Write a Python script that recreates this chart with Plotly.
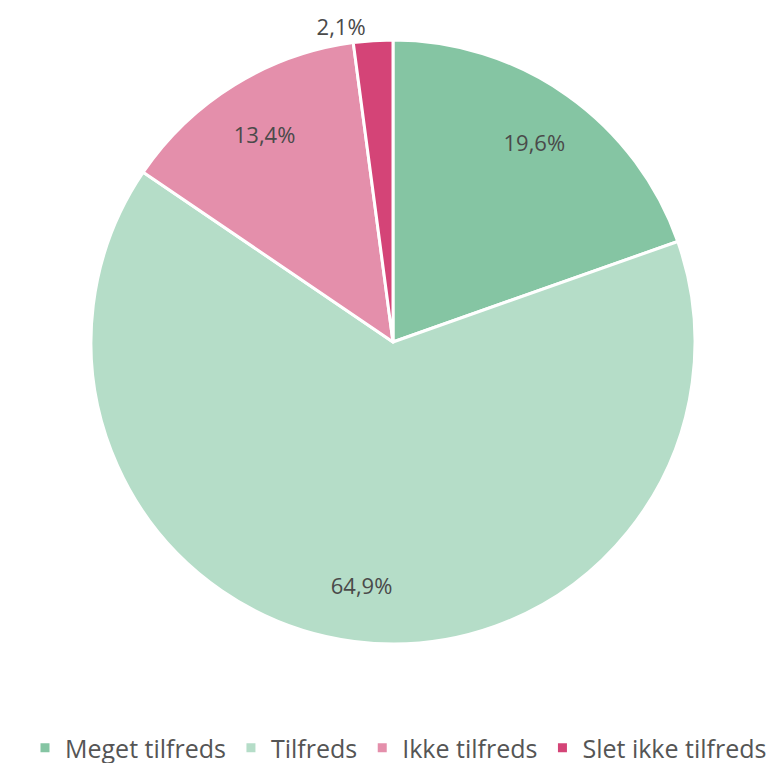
import plotly.graph_objects as go

labels = ["Meget tilfreds", "Tilfreds", "Ikke tilfreds", "Slet ikke tilfreds"]
values = [19.6, 64.9, 13.4, 2.1]
colors = ["#85C5A3", "#B5DDC8", "#E48FAB", "#D44477"]
main_positions = ["none", "none", "none", "outside"]
ring_positions = ["inside", "inside", "inside", "none"]

W, H = 781, 763
# pie box in pixels (left, right, top, bottom)
px_l, px_r, px_t, px_b = 83, 687, 32, 636
domain = dict(x=[px_l / W, px_r / W], y=[1 - px_b / H, 1 - px_t / H])

font_family = "Open Sans, Lato, sans-serif"
label_font = dict(family=font_family, size=22, color="#4a4a4a")

fig = go.Figure()
fig.add_trace(go.Pie(
    labels=labels,
    values=values,
    sort=False,
    direction="clockwise",
    rotation=0,
    domain=domain,
    marker=dict(colors=colors, line=dict(color="white", width=3)),
    texttemplate="%{value:.1f}%",
    textposition=main_positions,
    textfont=label_font,
    hoverinfo="label+value",
))
# transparent ring used only to place the inside labels further out
fig.add_trace(go.Pie(
    labels=labels,
    values=values,
    sort=False,
    direction="clockwise",
    rotation=0,
    domain=domain,
    hole=0.62,
    showlegend=False,
    marker=dict(colors=["rgba(0,0,0,0)"] * len(values), line=dict(width=0)),
    texttemplate="%{value:.1f}%",
    textposition=ring_positions,
    insidetextorientation="horizontal",
    textfont=label_font,
    hoverinfo="skip",
))

fig.update_layout(
    width=W, height=H,
    separators=",.",
    paper_bgcolor="white",
    margin=dict(l=0, r=0, t=0, b=0, autoexpand=False),
    showlegend=True,
    legend=dict(
        orientation="h",
        x=0.5, xanchor="center",
        y=0.0, yanchor="bottom",
        font=dict(family=font_family, size=25, color="#555555"),
        traceorder="normal",
    ),
)

fig.write_html("out.html")
